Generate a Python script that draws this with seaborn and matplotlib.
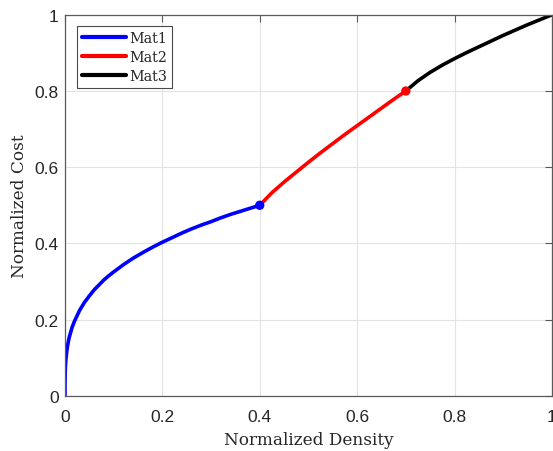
import numpy as np
import pandas as pd
import matplotlib
matplotlib.use("Agg")
import matplotlib.pyplot as plt
import seaborn as sns

# Data
mat1_x = [0.0, 0.0001, 0.0005, 0.001, 0.002, 0.004, 0.006, 0.008, 0.01, 0.015, 0.02, 0.03,
          0.04, 0.05, 0.06, 0.07, 0.08, 0.09, 0.10, 0.12, 0.14, 0.16, 0.18, 0.20, 0.22,
          0.24, 0.26, 0.28, 0.30, 0.32, 0.34, 0.36, 0.38, 0.40]
mat1_y = [0.0, 0.038, 0.063, 0.078, 0.097, 0.120, 0.136, 0.149, 0.159, 0.181, 0.197, 0.224,
          0.245, 0.262, 0.278, 0.291, 0.304, 0.315, 0.325, 0.344, 0.361, 0.376, 0.390, 0.403, 0.415,
          0.427, 0.438, 0.448, 0.457, 0.467, 0.476, 0.484, 0.492, 0.500]
mat2_x = [0.40, 0.425, 0.45, 0.475, 0.50, 0.525, 0.55, 0.575, 0.60, 0.625, 0.65, 0.675, 0.70]
mat2_y = [0.500, 0.533, 0.561, 0.587, 0.613, 0.638, 0.662, 0.686, 0.709, 0.732, 0.755, 0.778, 0.800]
mat3_x = [0.70, 0.725, 0.75, 0.775, 0.80, 0.825, 0.85, 0.875, 0.90, 0.925, 0.95, 0.975, 1.00]
mat3_y = [0.800, 0.827, 0.849, 0.868, 0.885, 0.901, 0.916, 0.931, 0.946, 0.960, 0.974, 0.987, 1.000]
series_names = ["Mat1", "Mat2", "Mat3"]
series_colors = ["#0000ff", "#ff0000", "#000000"]
break_x = [0.40, 0.70]
break_y = [0.50, 0.80]
break_names = ["Mat1", "Mat2"]
tick_vals = [0, 0.2, 0.4, 0.6, 0.8, 1]
tick_labels = ["0", "0.2", "0.4", "0.6", "0.8", "1"]

df = pd.concat([
    pd.DataFrame({"x": mat1_x, "y": mat1_y, "Material": "Mat1"}),
    pd.DataFrame({"x": mat2_x, "y": mat2_y, "Material": "Mat2"}),
    pd.DataFrame({"x": mat3_x, "y": mat3_y, "Material": "Mat3"}),
], ignore_index=True)
pts = pd.DataFrame({"x": break_x, "y": break_y, "Material": break_names})

sns.set_style("white")
plt.rcParams["font.family"] = ["Liberation Sans", "DejaVu Sans"]

fig = plt.figure(figsize=(5.53, 4.52), dpi=100)
ax = fig.add_axes([0.1175, 0.1223, 0.8805, 0.8427])

palette = dict(zip(series_names, series_colors))
sns.lineplot(data=df, x="x", y="y", hue="Material", palette=palette,
             estimator=None, sort=False, linewidth=2.6, ax=ax)
sns.scatterplot(data=pts, x="x", y="y", hue="Material", palette=palette,
                s=45, edgecolor="none", legend=False, ax=ax, zorder=5)

ax.set_xlim(0, 1)
ax.set_ylim(0, 1)
ax.set_xticks(tick_vals)
ax.set_xticklabels(tick_labels, family=["Liberation Sans"])
ax.set_yticks(tick_vals)
ax.set_yticklabels(tick_labels, family=["Liberation Sans"])
ax.grid(True, color="#e3e3e3", linewidth=0.8)
ax.set_axisbelow(True)
for sp in ax.spines.values():
    sp.set_visible(True)
    sp.set_color("#5a5a5a")
    sp.set_linewidth(0.9)
ax.tick_params(direction="in", length=5, width=0.8, color="#5a5a5a",
               top=True, right=True, labelsize=12.5, labelcolor="#262626")
ax.tick_params(axis="x", pad=9.5)
ax.tick_params(axis="y", pad=4.5)

serif = ["DejaVu Serif"]
ax.set_xlabel("Normalized Density", family=serif, fontsize=12.2, color="#262626", labelpad=5)
ax.set_ylabel("Normalized Cost", family=serif, fontsize=12.2, color="#262626", labelpad=4.5)

handles, labels = ax.get_legend_handles_labels()
leg = ax.legend(handles, labels, loc="upper left", bbox_to_anchor=(0.0237, 0.971),
                frameon=True, fancybox=False, framealpha=1, edgecolor="#4a4a4a",
                prop={"family": serif, "size": 10.3}, handlelength=3.1,
                handletextpad=0.25, labelspacing=0.36, borderpad=0.35, borderaxespad=0)
leg.get_frame().set_linewidth(0.8)
for h in leg.get_lines():
    h.set_linewidth(3)

fig.savefig("out.png", dpi=100)
